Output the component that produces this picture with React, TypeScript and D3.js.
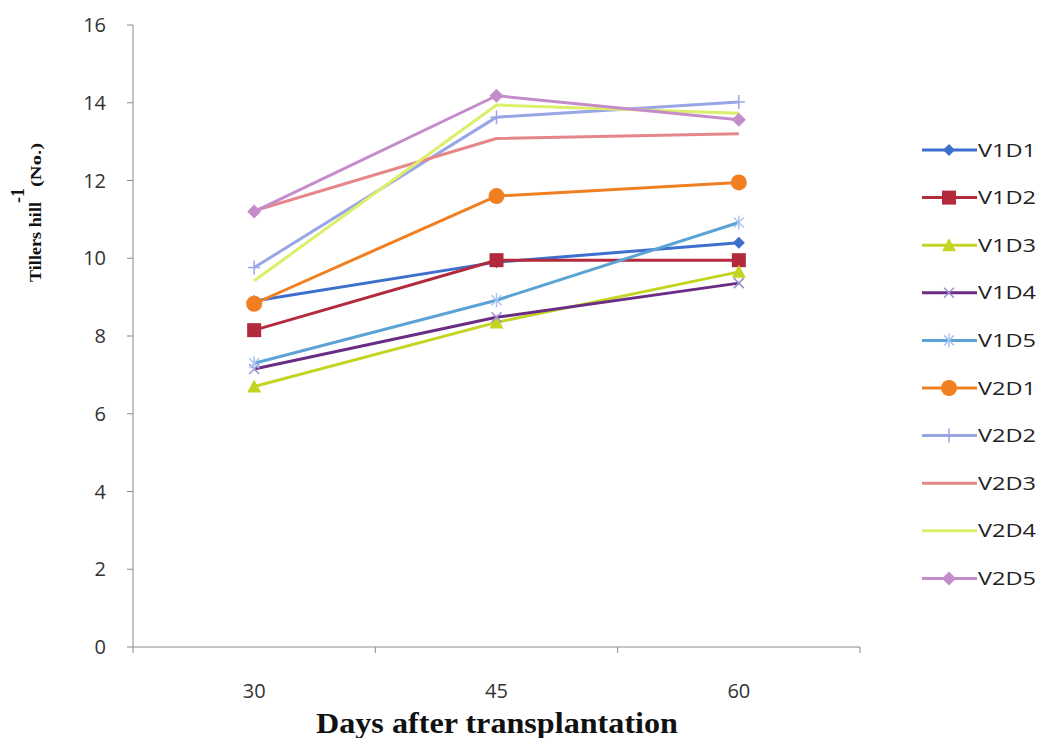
import React from "react";
import * as d3 from "d3";

// Days after transplantation
const days = ["30", "45", "60"];

// Tillers per hill for each treatment at 30, 45 and 60 DAT
const V1D1 = [8.9, 9.9, 10.4];
const V1D2 = [8.15, 9.95, 9.95];
const V1D3 = [6.7, 8.35, 9.65];
const V1D4 = [7.15, 8.48, 9.36];
const V1D5 = [7.3, 8.92, 10.92];
const V2D1 = [8.83, 11.6, 11.95];
const V2D2 = [9.76, 13.63, 14.02];
const V2D3 = [11.22, 13.08, 13.2];
const V2D4 = [9.42, 13.94, 13.73];
const V2D5 = [11.2, 14.18, 13.56];

const seriesNames = ["V1D1", "V1D2", "V1D3", "V1D4", "V1D5", "V2D1", "V2D2", "V2D3", "V2D4", "V2D5"];
const seriesValues = [V1D1, V1D2, V1D3, V1D4, V1D5, V2D1, V2D2, V2D3, V2D4, V2D5];
const seriesColors = [
  "#3e6fcc", "#b22a3c", "#c3d520", "#6b2c85", "#5aa3d4",
  "#f07f22", "#98a6e6", "#e5878a", "#dcee6a", "#c48ccb",
];
type MarkerKind = "diamond" | "square" | "triangle" | "cross" | "star" | "circle" | "plus" | "none" | "bigdiamond";
const seriesMarkers: MarkerKind[] = [
  "diamond", "square", "triangle", "cross", "star",
  "circle", "plus", "none", "none", "bigdiamond",
];

const yTicks = [0, 2, 4, 6, 8, 10, 12, 14, 16];

const W = 1041;
const H = 738;
const plotLeft = 133;
const plotRight = 860;
const plotTop = 25;
const plotBottom = 647;

function Marker({ kind, x, y, color }: { kind: MarkerKind; x: number; y: number; color: string }) {
  switch (kind) {
    case "diamond":
      return <path d={`M${x},${y - 6}L${x + 6},${y}L${x},${y + 6}L${x - 6},${y}Z`} fill={color} />;
    case "bigdiamond":
      return <path d={`M${x},${y - 7}L${x + 7},${y}L${x},${y + 7}L${x - 7},${y}Z`} fill={color} />;
    case "square":
      return <rect x={x - 7} y={y - 7} width={14} height={14} fill={color} />;
    case "triangle":
      return <path d={`M${x},${y - 7}L${x + 7},${y + 6}L${x - 7},${y + 6}Z`} fill={color} />;
    case "circle":
      return <circle cx={x} cy={y} r={8} fill={color} />;
    case "cross":
      return (
        <path
          d={`M${x - 5},${y - 5}L${x + 5},${y + 5}M${x - 5},${y + 5}L${x + 5},${y - 5}`}
          stroke="#9c8fd0"
          strokeWidth={1.5}
          fill="none"
        />
      );
    case "star":
      return (
        <path
          d={`M${x - 5},${y - 5}L${x + 5},${y + 5}M${x - 5},${y + 5}L${x + 5},${y - 5}M${x},${y - 7}L${x},${y + 7}`}
          stroke="#a9c4ef"
          strokeWidth={1.5}
          fill="none"
        />
      );
    case "plus":
      return (
        <path
          d={`M${x - 6},${y}L${x + 6},${y}M${x},${y - 7}L${x},${y + 7}`}
          stroke={color}
          strokeWidth={1.5}
          fill="none"
        />
      );
    default:
      return null;
  }
}

export default function App() {
  const x = d3.scaleBand<string>().domain(days).range([plotLeft, plotRight]).padding(0);
  const y = d3.scaleLinear().domain([0, 16]).range([plotBottom, plotTop]);
  const cx = (d: string) => (x(d) as number) + x.bandwidth() / 2;

  const line = d3
    .line<number>()
    .x((_, i) => cx(days[i]))
    .y((v) => y(v));

  const xEdges = [...days.map((d) => x(d) as number), plotRight];

  const legendX = 922;
  const legendTop = 150;
  const legendStep = 47.6;

  return (
    <svg width={W} height={H} style={{ position: "absolute", left: 0, top: 0, background: "#fff" }}>
      {/* axes */}
      <line x1={plotLeft} y1={plotTop} x2={plotLeft} y2={plotBottom} stroke="#8a8a8a" strokeWidth={1} />
      <line x1={plotLeft} y1={plotBottom} x2={plotRight} y2={plotBottom} stroke="#8a8a8a" strokeWidth={1} />
      {yTicks.map((t) => (
        <g key={`y${t}`}>
          <line x1={plotLeft - 6} y1={y(t)} x2={plotLeft} y2={y(t)} stroke="#8a8a8a" />
          <text
            x={106}
            y={y(t)}
            dy="0.35em"
            textAnchor="end"
            fontFamily="'Open Sans', sans-serif"
            fontSize={20}
            fill="#333"
          >
            {t}
          </text>
        </g>
      ))}
      {xEdges.map((e, i) => (
        <line key={`xt${i}`} x1={e} y1={plotBottom} x2={e} y2={plotBottom + 6} stroke="#8a8a8a" />
      ))}
      {days.map((d) => (
        <text
          key={`xl${d}`}
          x={cx(d)}
          y={698}
          textAnchor="middle"
          fontFamily="'Open Sans', sans-serif"
          fontSize={20}
          fill="#333"
        >
          {d}
        </text>
      ))}

      {/* axis titles */}
      <text
        x={497}
        y={733}
        textAnchor="middle"
        fontFamily="'Liberation Serif', 'Times New Roman', serif"
        fontWeight="bold"
        fontSize={30}
        textLength={362}
        lengthAdjust="spacingAndGlyphs"
        fill="#111"
      >
        Days after transplantation
      </text>
      <g transform="translate(41,282) rotate(-90)">
        <text
          x={0}
          y={0}
          fontFamily="'Liberation Serif', 'Times New Roman', serif"
          fontWeight="bold"
          fontSize={16}
          fill="#111"
        >
          <tspan textLength={80} lengthAdjust="spacingAndGlyphs">Tillers hill</tspan>
          <tspan dx={-1} dy={-17} fontSize={18}>-1</tspan>
          <tspan dx={1} dy={17} fontSize={14} textLength={44} lengthAdjust="spacingAndGlyphs">(No.)</tspan>
        </text>
      </g>

      {/* series lines */}
      {seriesValues.map((vals, si) => (
        <path
          key={`l${si}`}
          d={line(vals) || ""}
          fill="none"
          stroke={seriesColors[si]}
          strokeWidth={3}
          strokeLinejoin="round"
        />
      ))}
      {seriesValues.map((vals, si) => (
        <g key={`m${si}`}>
          {vals.map((v, i) => (
            <Marker key={i} kind={seriesMarkers[si]} x={cx(days[i])} y={y(v)} color={seriesColors[si]} />
          ))}
        </g>
      ))}

      {/* legend */}
      {seriesNames.map((name, i) => {
        const ly = legendTop + i * legendStep;
        return (
          <g key={`lg${name}`}>
            <line x1={legendX} y1={ly} x2={legendX + 55} y2={ly} stroke={seriesColors[i]} strokeWidth={3} />
            <Marker kind={seriesMarkers[i]} x={legendX + 27} y={ly} color={seriesColors[i]} />
            <text
              x={legendX + 56}
              y={ly}
              dy="0.35em"
              fontFamily="'Open Sans', sans-serif"
              fontSize={19}
              textLength={58}
              lengthAdjust="spacingAndGlyphs"
              fill="#222"
            >
              {name}
            </text>
          </g>
        );
      })}
    </svg>
  );
}
